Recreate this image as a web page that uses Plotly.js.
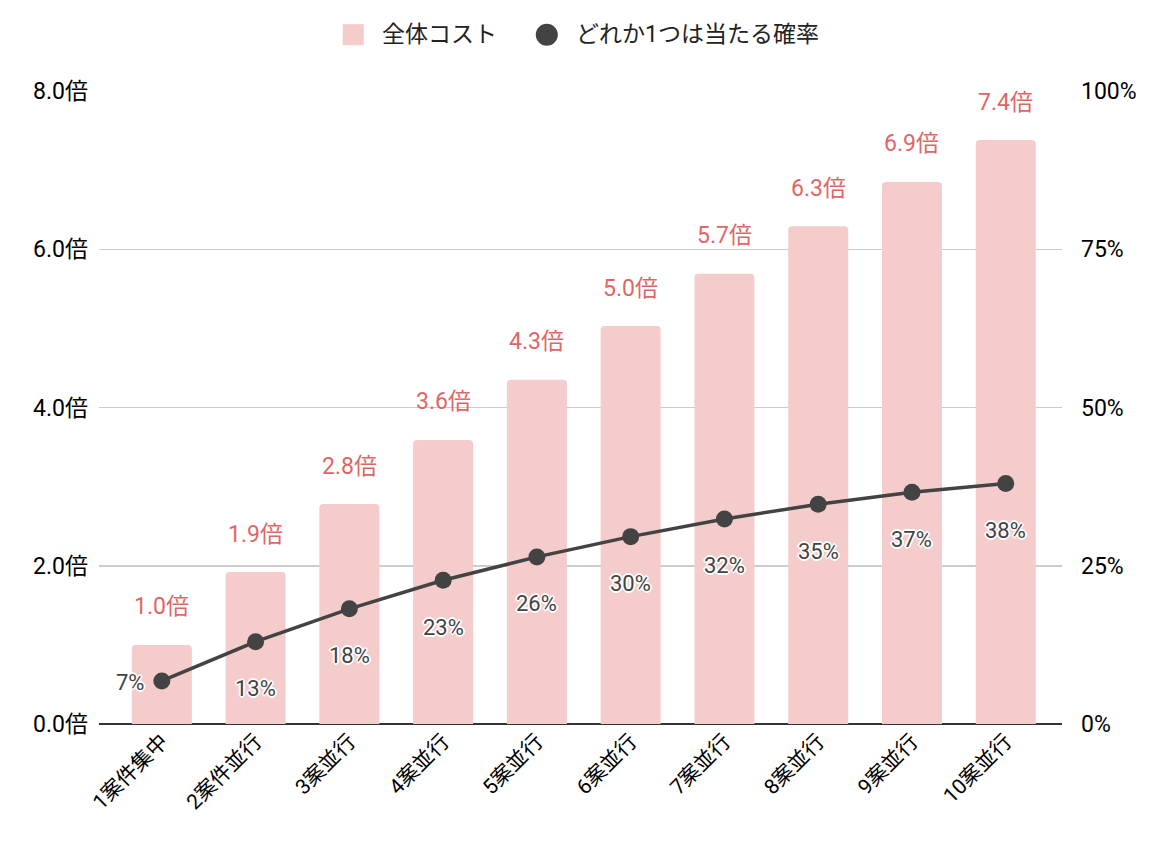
<!DOCTYPE html>
<html>
<head>
<meta charset="utf-8">
<script src="https://cdn.plot.ly/plotly-3.0.1.min.js"></script>
<style>
  body { margin: 0; background: #fff; }
  #chart { width: 1164px; height: 850px; }
</style>
</head>
<body>
<div id="chart"></div>
<script>
// categories and series
const categories = ['1案件集中', '2案件並行', '3案並行', '4案並行', '5案並行',
                    '6案並行', '7案並行', '8案並行', '9案並行', '10案並行'];
const costValues = [1.0, 1.92, 2.78, 3.59, 4.35, 5.03, 5.69, 6.29, 6.85, 7.38];
const costLabels = ['1.0倍', '1.9倍', '2.8倍', '3.6倍', '4.3倍', '5.0倍', '5.7倍', '6.3倍', '6.9倍', '7.4倍'];
const hitValues = [6.8, 13.0, 18.2, 22.7, 26.4, 29.6, 32.4, 34.7, 36.6, 38.0];
const hitLabels = ['7%', '13%', '18%', '23%', '26%', '30%', '32%', '35%', '37%', '38%'];
const leftTicks = [0, 2, 4, 6, 8];
const leftTickText = ['0.0倍', '2.0倍', '4.0倍', '6.0倍', '8.0倍'];
const rightTicks = [0, 25, 50, 75, 100];
const rightTickText = ['0%', '25%', '50%', '75%', '100%'];
const seriesNames = ['全体コスト', 'どれか1つは当たる確率'];

const FONT = 'Roboto, "Noto Sans CJK JP", sans-serif';
const BAR_COLOR = '#f4cccc';
const LINE_COLOR = '#434343';
const outline = '1px 1px 0 #fff, -1px -1px 0 #fff, 1px -1px 0 #fff, -1px 1px 0 #fff, 0 2px 0 #fff, 0 -2px 0 #fff, 2px 0 0 #fff, -2px 0 0 #fff';

const bars = {
    x: categories,
    y: costValues,
    type: 'bar',
    name: seriesNames[0],
    width: 0.64,
    marker: { color: BAR_COLOR, cornerradius: 4 },
    hoverinfo: 'skip'
};

const line = {
    x: categories,
    y: hitValues,
    type: 'scatter',
    mode: 'lines+markers',
    name: seriesNames[1],
    yaxis: 'y2',
    line: { color: LINE_COLOR, width: 3.5 },
    marker: { color: LINE_COLOR, size: 17 },
    hoverinfo: 'skip'
};

// labels above the bars / under the points
const annotations = [];
categories.forEach((c, i) => {
    annotations.push({
        x: c, y: costValues[i], xref: 'x', yref: 'y',
        text: costLabels[i], showarrow: false, yshift: 38,
        font: { family: FONT, size: 23, color: '#e06666' }
    });
    const first = i === 0;   // first one sits left of its point
    annotations.push({
        x: c, y: hitValues[i], xref: 'x', yref: 'y2',
        text: hitLabels[i], showarrow: false,
        yshift: first ? -2 : -47, xshift: first ? -32 : 0,
        font: { family: FONT, size: 22, color: LINE_COLOR, shadow: outline }
    });
});

// hand-made key at the top (plotly caps legend swatch sizes)
const LEG_Y = 1.089;
const keyPos = [0.264, 0.465];   // paper x of each swatch centre
const shapes = [
    { type: 'rect', xref: 'paper', yref: 'paper', xsizemode: 'pixel', ysizemode: 'pixel',
      xanchor: keyPos[0], yanchor: LEG_Y, x0: -10.5, x1: 10.5, y0: -10.5, y1: 10.5,
      fillcolor: BAR_COLOR, line: { width: 0 } },
    { type: 'circle', xref: 'paper', yref: 'paper', xsizemode: 'pixel', ysizemode: 'pixel',
      xanchor: keyPos[1], yanchor: LEG_Y, x0: -11, x1: 11, y0: -11, y1: 11,
      fillcolor: LINE_COLOR, line: { width: 0 } }
];
seriesNames.forEach((n, i) => {
    annotations.push({
        x: keyPos[i], y: LEG_Y, xref: 'paper', yref: 'paper',
        xanchor: 'left', xshift: 27, yanchor: 'middle',
        text: n, showarrow: false,
        font: { family: FONT, size: 23, color: '#222' }
    });
});

const layout = {
    width: 1164,
    height: 850,
    margin: { l: 99, r: 102, t: 91, b: 126 },
    paper_bgcolor: '#ffffff',
    plot_bgcolor: '#ffffff',
    font: { family: FONT, size: 21, color: '#000' },
    showlegend: false,
    xaxis: {
        type: 'category',
        range: [-0.67, 9.6],
        tickangle: -45,
        ticks: '',
        tickfont: { family: FONT, size: 21, color: '#000' },
        showgrid: false,
        showline: false,
        zeroline: false
    },
    yaxis: {
        range: [0, 8],
        tickvals: leftTicks,
        ticktext: leftTickText,
        tickfont: { family: FONT, size: 23, color: '#000' },
        gridcolor: '#cccccc',
        gridwidth: 1.5,
        zeroline: true,
        zerolinecolor: '#333333',
        zerolinewidth: 2,
        ticklabelstandoff: 10
    },
    yaxis2: {
        overlaying: 'y',
        side: 'right',
        range: [0, 100],
        tickvals: rightTicks,
        ticktext: rightTickText,
        tickfont: { family: FONT, size: 23, color: '#000' },
        showgrid: false,
        zeroline: false,
        ticklabelstandoff: 18
    },
    shapes: shapes,
    annotations: annotations
};

Plotly.newPlot('chart', [bars, line], layout, { displayModeBar: false, staticPlot: true });
</script>
</body>
</html>
